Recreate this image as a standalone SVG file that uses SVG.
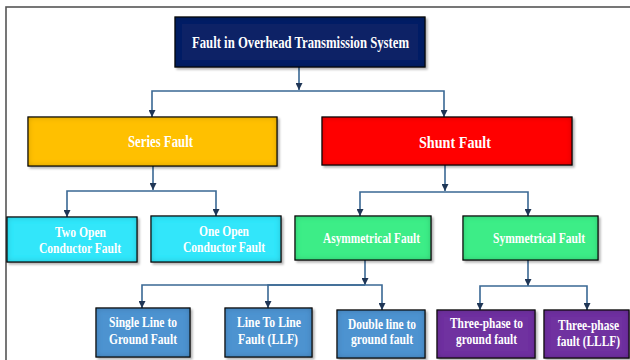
<svg xmlns="http://www.w3.org/2000/svg" width="630" height="360" viewBox="0 0 630 360">
<defs>
<filter id="glow" x="-5%" y="-10%" width="115%" height="130%">
<feFlood flood-color="#000" flood-opacity="0.5" result="f"/>
<feComposite in="f" in2="SourceAlpha" operator="out" result="o"/>
<feGaussianBlur in="o" stdDeviation="3" result="b"/>
<feComposite in="b" in2="SourceAlpha" operator="in" result="inner"/>
<feOffset in="SourceAlpha" dx="1.5" dy="1.5" result="off"/>
<feGaussianBlur in="off" stdDeviation="1" result="ob"/>
<feFlood flood-color="#000" flood-opacity="0.3"/>
<feComposite in2="ob" operator="in" result="shadow"/>
<feMerge><feMergeNode in="shadow"/><feMergeNode in="SourceGraphic"/><feMergeNode in="inner"/></feMerge>
</filter>
<marker id="arr" viewBox="0 0 10 10" refX="10" refY="5" markerWidth="7" markerHeight="7" markerUnits="userSpaceOnUse" orient="auto">
<path d="M0,0 L10,5 L0,10 Z" fill="#1f3656"/>
</marker>
</defs>
<style>
.box{stroke:#111;stroke-width:1.2;filter:url(#glow)}
.t{font-family:"Liberation Serif","Times New Roman",serif;font-weight:bold;fill:#fff;text-anchor:middle}
.ca{fill:none;stroke:#3a6894;stroke-width:1.6;marker-end:url(#arr)}
</style>
<rect x="6" y="7" width="700" height="420" fill="none" stroke="#555" stroke-width="1.6"/>

<g id="connectors">
<path class="ca" d="M299,67 V90"/>
<path class="ca" d="M299,91 H152 V117"/>
<path class="ca" d="M299,91 H444 V117"/>
<path class="ca" d="M153,166 V190"/>
<path class="ca" d="M153,191 H67 V217"/>
<path class="ca" d="M153,191 H216 V216"/>
<path class="ca" d="M445,165 V191"/>
<path class="ca" d="M445,192 H360 V216"/>
<path class="ca" d="M445,192 H528 V216"/>
<path class="ca" d="M365,260 V285"/>
<path class="ca" d="M365,285 H142 V308"/>
<path class="ca" d="M365,285 H268 V308"/>
<path class="ca" d="M365,285 H382 V310"/>
<path class="ca" d="M528,260 V286"/>
<path class="ca" d="M528,286 H480 V310"/>
<path class="ca" d="M528,286 H587 V310"/>
</g>

<g id="root">
<rect class="box" x="175" y="17" width="250" height="50" fill="#0a2266"/>
<text class="t" x="300.5" y="48" font-size="16.5" textLength="217" lengthAdjust="spacingAndGlyphs">Fault in Overhead Transmission System</text>
</g>
<g id="series">
<rect class="box" x="28" y="117" width="249" height="49" fill="#ffc000"/>
<text class="t" x="160.5" y="147" font-size="16" textLength="65" lengthAdjust="spacingAndGlyphs">Series Fault</text>
</g>
<g id="shunt">
<rect class="box" x="322" y="117" width="250" height="48" fill="#ff0000"/>
<text class="t" x="455" y="148" font-size="17" textLength="72" lengthAdjust="spacingAndGlyphs">Shunt Fault</text>
</g>
<g id="two-open">
<rect class="box" x="7" y="217" width="130" height="45" fill="#33e6fa"/>
<text class="t" x="80.5" y="237" font-size="15" textLength="51" lengthAdjust="spacingAndGlyphs">Two Open</text>
<text class="t" x="80" y="253" font-size="15" textLength="82" lengthAdjust="spacingAndGlyphs">Conductor Fault</text>
</g>
<g id="one-open">
<rect class="box" x="151" y="216" width="130" height="46" fill="#33e6fa"/>
<text class="t" x="224" y="236" font-size="15" textLength="50" lengthAdjust="spacingAndGlyphs">One Open</text>
<text class="t" x="224" y="252" font-size="15" textLength="82" lengthAdjust="spacingAndGlyphs">Conductor Fault</text>
</g>
<g id="asymmetrical">
<rect class="box" x="295" y="216" width="136" height="44" fill="#3ded87"/>
<text class="t" x="371.5" y="243" font-size="15" textLength="97" lengthAdjust="spacingAndGlyphs">Asymmetrical Fault</text>
</g>
<g id="symmetrical">
<rect class="box" x="463" y="216" width="135" height="44" fill="#3ded87"/>
<text class="t" x="539" y="243" font-size="15" textLength="92" lengthAdjust="spacingAndGlyphs">Symmetrical Fault</text>
</g>
<g id="single-line">
<rect class="box" x="96" y="308" width="94" height="49" fill="#4d93d0"/>
<text class="t" x="143" y="327" font-size="14.5" textLength="68" lengthAdjust="spacingAndGlyphs">Single Line to</text>
<text class="t" x="143" y="344" font-size="14.5" textLength="68" lengthAdjust="spacingAndGlyphs">Ground Fault</text>
</g>
<g id="line-to-line">
<rect class="box" x="225" y="308" width="87" height="49" fill="#4d93d0"/>
<text class="t" x="269" y="327" font-size="14.5" textLength="64" lengthAdjust="spacingAndGlyphs">Line To Line</text>
<text class="t" x="268" y="344" font-size="14.5" textLength="60" lengthAdjust="spacingAndGlyphs">Fault (LLF)</text>
</g>
<g id="double-line">
<rect class="box" x="337" y="310" width="88" height="48" fill="#4d93d0"/>
<text class="t" x="382" y="329" font-size="14.5" textLength="68" lengthAdjust="spacingAndGlyphs">Double line to</text>
<text class="t" x="382" y="344" font-size="14.5" textLength="62" lengthAdjust="spacingAndGlyphs">ground fault</text>
</g>
<g id="three-phase-ground">
<rect class="box" x="437" y="310" width="98" height="48" fill="#7030a0"/>
<text class="t" x="486.5" y="328" font-size="14.5" textLength="73" lengthAdjust="spacingAndGlyphs">Three-phase to</text>
<text class="t" x="486.5" y="344" font-size="14.5" textLength="61" lengthAdjust="spacingAndGlyphs">ground fault</text>
</g>
<g id="three-phase-lllf">
<rect class="box" x="544" y="310" width="85" height="48" fill="#7030a0"/>
<text class="t" x="588.5" y="330" font-size="14.5" textLength="61" lengthAdjust="spacingAndGlyphs">Three-phase</text>
<text class="t" x="588.5" y="346" font-size="14.5" textLength="63" lengthAdjust="spacingAndGlyphs">fault (LLLF)</text>
</g>
</svg>
